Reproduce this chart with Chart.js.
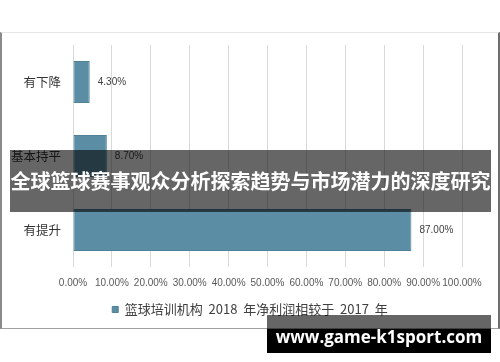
<!DOCTYPE html>
<html lang="zh">
<head>
  <meta charset="UTF-8">
  <title>篮球培训机构净利润变化</title>
  <script src="https://cdn.jsdelivr.net/npm/chart.js"></script>
  <style>
    body {
      margin: 0;
      background: #fff;
      font-family: 'Noto Sans CJK SC', sans-serif;
    }
    .wrap {
      position: relative;
      width: 500px;
      height: 362px;
      overflow: hidden;
    }
    /* frame of the original picture */
    .frame {
      position: absolute;
      left: 0;
      top: 32px;
      width: 496px;
      height: 295px;
      border-left: 2px solid #8a8a8a;
      border-top: 1px solid #e6e6e6;
      border-right: 2px solid #6e6e6e;
      border-bottom: 1px solid #a0a0a0;
    }
    canvas { position: absolute; left: 0; top: 0; }
    .banner {
      position: absolute;
      left: 10px;
      top: 150px;
      width: 481px;
      height: 62px;
      background: rgba(0, 0, 0, 0.6);
      color: #fff;
      font-weight: bold;
      font-size: 20px;
      line-height: 62px;
      text-align: center;
      white-space: nowrap;
    }
    .mark-top {
      position: absolute;
      left: 267px;
      top: 315px;
      width: 224px;
      height: 14px;
      background: rgba(0, 0, 0, 0.6);
    }
    .mark-bottom {
      position: absolute;
      left: 267px;
      top: 329px;
      width: 224px;
      height: 24px;
      background: #000;
    }
    .mark {
      position: absolute;
      left: 267px;
      top: 315px;
      width: 224px;
      height: 38px;
      color: #fff;
      font-family: 'Open Sans', sans-serif;
      font-weight: bold;
      font-size: 17px;
      line-height: 44px;
      text-align: center;
    }
  </style>
</head>
<body>
  <div class="wrap">
    <div class="frame"></div>
    <canvas id="chart" width="500" height="362"></canvas>
    <div class="banner">全球篮球赛事观众分析探索趋势与市场潜力的深度研究</div>
    <div class="mark-top"></div>
    <div class="mark-bottom"></div>
    <div class="mark">www.game-k1sport.com</div>
  </div>

  <script>
    const categories = ['有下降', '基本持平', '有提升'];
    const values = [4.3, 8.7, 87.0];
    const seriesName = '篮球培训机构  2018  年净利润相较于  2017  年';
    const xMax = 100;
    const xStep = 10;

    // value labels at the end of each bar
    const barLabels = {
      id: 'barLabels',
      afterDatasetsDraw(chart) {
        const ctx = chart.ctx;
        const meta = chart.getDatasetMeta(0);
        ctx.save();
        ctx.font = '10px "Liberation Sans", Arial, sans-serif';
        ctx.fillStyle = '#404040';
        ctx.textAlign = 'left';
        ctx.textBaseline = 'middle';
        meta.data.forEach((bar, i) => {
          ctx.fillText(values[i].toFixed(2) + '%', bar.x + 8, bar.y);
        });
        ctx.restore();
      }
    };

    // legend is centred on the whole picture, not on the left part
    const legendShift = {
      id: 'legendShift',
      afterLayout(chart) {
        chart.legend.left += 19;
        chart.legend.right += 19;
      }
    };

    new Chart(document.getElementById('chart'), {
      type: 'bar',
      data: {
        labels: categories,
        datasets: [{
          label: seriesName,
          data: values,
          backgroundColor: '#5b8ea5',
          borderColor: '#4f8298',
          borderWidth: 1,
          borderSkipped: false,
          categoryPercentage: 0.57,
          barPercentage: 1
        }]
      },
      options: {
        indexAxis: 'y',
        responsive: false,
        animation: false,
        layout: { padding: { top: 45, right: 38, bottom: 36, left: 0 } },
        scales: {
          x: {
            min: 0,
            max: xMax,
            afterFit(scale) { scale.height = 28; },
            ticks: {
              stepSize: xStep,
              color: '#595959',
              font: { family: '"Liberation Sans", Arial, sans-serif', size: 10 },
              padding: 10,
              maxRotation: 0,
              autoSkip: false,
              callback: v => v.toFixed(2) + '%'
            },
            grid: { color: '#d9d9d9', lineWidth: 1, drawTicks: false },
            border: { display: false }
          },
          y: {
            afterFit(scale) { scale.width = 73; },
            ticks: {
              color: '#333',
              font: { family: '"Noto Sans CJK SC", sans-serif', size: 12.5 },
              padding: 4
            },
            grid: { display: false },
            border: { display: false }
          }
        },
        plugins: {
          legend: {
            position: 'bottom',
            labels: {
              boxWidth: 6,
              boxHeight: 6,
              color: '#404040',
              padding: 8,
              font: { family: '"Noto Sans CJK SC", sans-serif', size: 13 }
            }
          },
          tooltip: { enabled: false }
        }
      },
      plugins: [barLabels, legendShift]
    });
  </script>
</body>
</html>
